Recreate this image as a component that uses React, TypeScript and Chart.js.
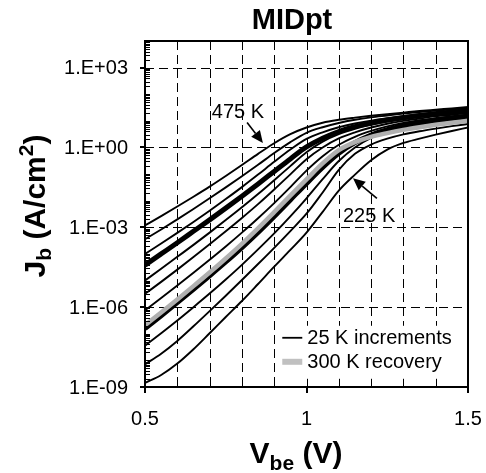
import React, { useEffect, useRef } from 'react';
import { Chart, registerables } from 'chart.js';

Chart.register(...registerables);

// Base-emitter voltage (V)
const vbe = [0.5, 0.55, 0.6, 0.65, 0.7, 0.75, 0.8, 0.85, 0.9, 0.95, 1.0, 1.05, 1.1, 1.15, 1.2, 1.25, 1.3, 1.35, 1.4, 1.45, 1.5];

const jb475 = [-2.93, -2.58, -2.22, -1.85, -1.47, -1.07, -0.66, -0.24, 0.16, 0.5, 0.75, 0.93, 1.04, 1.12, 1.19, 1.25, 1.31, 1.37, 1.42, 1.47, 1.52];
const jb450 = [-3.45, -3.08, -2.7, -2.31, -1.91, -1.5, -1.08, -0.65, -0.21, 0.2, 0.55, 0.76, 0.92, 1.04, 1.13, 1.2, 1.27, 1.33, 1.38, 1.43, 1.48];
const jb425 = [-4.0, -3.61, -3.21, -2.8, -2.38, -1.94, -1.49, -1.02, -0.54, -0.08, 0.32, 0.57, 0.76, 0.9, 1.01, 1.1, 1.18, 1.25, 1.31, 1.37, 1.42];
const jb400 = [-4.42, -4.0, -3.58, -3.15, -2.72, -2.28, -1.83, -1.37, -0.9, -0.43, 0.02, 0.35, 0.6, 0.78, 0.92, 1.03, 1.12, 1.2, 1.27, 1.33, 1.38];
const jb375 = [-5.0, -4.56, -4.11, -3.66, -3.2, -2.73, -2.25, -1.75, -1.23, -0.7, -0.18, 0.22, 0.5, 0.7, 0.85, 0.97, 1.07, 1.15, 1.22, 1.28, 1.33];
const jb350 = [-5.5, -5.05, -4.59, -4.12, -3.64, -3.15, -2.65, -2.13, -1.58, -1.01, -0.44, 0.0, 0.34, 0.57, 0.75, 0.89, 1.0, 1.09, 1.17, 1.23, 1.29];
const jb325 = [-6.12, -5.66, -5.19, -4.71, -4.22, -3.72, -3.2, -2.66, -2.09, -1.49, -0.87, -0.33, 0.1, 0.4, 0.62, 0.79, 0.92, 1.02, 1.1, 1.17, 1.23];
const jb300 = [-6.8, -6.32, -5.83, -5.33, -4.82, -4.3, -3.76, -3.19, -2.59, -1.97, -1.35, -0.75, -0.22, 0.18, 0.47, 0.67, 0.82, 0.94, 1.03, 1.11, 1.17];
const jb275 = [-7.45, -6.98, -6.5, -6.0, -5.49, -4.96, -4.41, -3.83, -3.23, -2.59, -1.91, -1.19, -0.51, 0.0, 0.36, 0.58, 0.73, 0.85, 0.95, 1.03, 1.1];
const jb250 = [-8.15, -7.75, -7.27, -6.72, -6.15, -5.57, -4.98, -4.38, -3.77, -3.14, -2.49, -1.69, -0.84, -0.24, 0.11, 0.33, 0.49, 0.61, 0.71, 0.8, 0.88];
const jb225 = [-8.85, -8.55, -8.12, -7.58, -6.98, -6.37, -5.77, -5.13, -4.48, -3.85, -3.2, -2.42, -1.62, -1.02, -0.48, -0.08, 0.17, 0.33, 0.48, 0.62, 0.75];
const jb300Recovery = [-6.68, -6.2, -5.71, -5.21, -4.7, -4.17, -3.62, -3.04, -2.43, -1.81, -1.2, -0.6, -0.1, 0.2, 0.4, 0.54, 0.66, 0.76, 0.85, 0.93, 1.0];

const thinSeries = [jb475, jb450, jb425, jb375, jb350, jb325, jb275, jb250, jb225];
const thickSeries = [jb400, jb300];

const yTickValues = [1e-9, 1e-6, 1e-3, 1, 1e3];
const yTickLabels = ['1.E-09', '1.E-06', '1.E-03', '1.E+00', '1.E+03'];
const yGridValues = [1e-6, 1e-3, 1, 1e3];
const xTickValues = [0.5, 1, 1.5];
const xTickLabels = ['0.5', '1', '1.5'];
const xGridValues = [0.6, 0.7, 0.8, 0.9, 1.0, 1.1, 1.2, 1.3, 1.4];
const legendLabels = ['25 K increments', '300 K recovery'];
const chartTitle = 'MIDpt';

const FONT = "'Liberation Sans', Arial, Helvetica, sans-serif";
const GRAY = '#b0b0b0';
const LEGEND_GRAY = '#c0c0c0';

const toPoints = (exps: number[]) => exps.map((e, i) => ({ x: vbe[i], y: Math.pow(10, e) }));

function drawArrow(ctx: CanvasRenderingContext2D, x0: number, y0: number, x1: number, y1: number) {
  const ang = Math.atan2(y1 - y0, x1 - x0);
  const head = 12;
  const hw = 5.5;
  const bx = x1 - head * Math.cos(ang);
  const by = y1 - head * Math.sin(ang);
  ctx.beginPath();
  ctx.moveTo(x0, y0);
  ctx.lineTo(bx, by);
  ctx.lineWidth = 1.6;
  ctx.strokeStyle = '#000';
  ctx.stroke();
  ctx.beginPath();
  ctx.moveTo(x1, y1);
  ctx.lineTo(bx + hw * Math.sin(ang), by - hw * Math.cos(ang));
  ctx.lineTo(bx - hw * Math.sin(ang), by + hw * Math.cos(ang));
  ctx.closePath();
  ctx.fillStyle = '#000';
  ctx.fill();
}

const decorPlugin = {
  id: 'midptDecor',
  beforeDatasetsDraw(chart: any) {
    const { ctx, chartArea: a, scales } = chart;
    const x = scales.x, y = scales.y;
    ctx.save();
    ctx.strokeStyle = '#000';
    ctx.lineWidth = 1;
    ctx.setLineDash([9, 5]);
    for (const v of xGridValues) {
      const px = Math.round(x.getPixelForValue(v)) + 0.5;
      ctx.beginPath();
      ctx.moveTo(px, a.top);
      ctx.lineTo(px, a.bottom);
      ctx.stroke();
    }
    for (const v of yGridValues) {
      const py = Math.round(y.getPixelForValue(v)) + 0.5;
      ctx.beginPath();
      ctx.moveTo(a.left, py);
      ctx.lineTo(a.right, py);
      ctx.stroke();
    }
    ctx.restore();
  },
  afterDatasetsDraw(chart: any) {
    const { ctx, chartArea: a, scales } = chart;
    const x = scales.x, y = scales.y;
    ctx.save();

    // legend (white box inside plot)
    const lx = x.getPixelForValue(0.925);
    const ly = y.getPixelForValue(Math.pow(10, -6.7));
    ctx.fillStyle = '#fff';
    ctx.fillRect(lx - 4, ly, a.right - lx + 2, 53);
    ctx.font = `20px ${FONT}`;
    ctx.textBaseline = 'middle';
    ctx.textAlign = 'left';
    const rows = [
      { color: '#000', width: 1.8 },
      { color: LEGEND_GRAY, width: 6 },
    ];
    rows.forEach((r, i) => {
      const cy = ly + 12 + i * 24;
      ctx.beginPath();
      ctx.moveTo(lx, cy);
      ctx.lineTo(lx + 20, cy);
      ctx.strokeStyle = r.color;
      ctx.lineWidth = r.width;
      ctx.stroke();
      ctx.fillStyle = '#000';
      ctx.fillText(legendLabels[i], lx + 25, cy + 1);
    });

    // frame
    ctx.strokeStyle = '#000';
    ctx.lineWidth = 2;
    ctx.strokeRect(a.left, a.top, a.right - a.left, a.bottom - a.top);

    // y ticks: minor inside, major outside
    ctx.lineWidth = 1;
    for (let k = -9; k < 4; k++) {
      for (let m = 1; m < 10; m++) {
        const v = m * Math.pow(10, k);
        const py = Math.round(y.getPixelForValue(v)) + 0.5;
        ctx.beginPath();
        ctx.moveTo(a.left, py);
        ctx.lineTo(a.left + 5, py);
        ctx.stroke();
      }
    }
    ctx.lineWidth = 2;
    for (const v of yTickValues) {
      const py = Math.round(y.getPixelForValue(v));
      ctx.beginPath();
      ctx.moveTo(a.left - 5, py);
      ctx.lineTo(a.left, py);
      ctx.stroke();
    }
    // x ticks
    ctx.lineWidth = 1;
    for (const v of xGridValues) {
      const px = Math.round(x.getPixelForValue(v)) + 0.5;
      ctx.beginPath();
      ctx.moveTo(px, a.bottom);
      ctx.lineTo(px, a.bottom - 6);
      ctx.stroke();
    }
    ctx.lineWidth = 2;
    for (const v of xTickValues) {
      const px = Math.round(x.getPixelForValue(v));
      ctx.beginPath();
      ctx.moveTo(px, a.bottom);
      ctx.lineTo(px, a.bottom + 6);
      ctx.stroke();
    }

    // tick labels
    ctx.fillStyle = '#000';
    ctx.font = `20px ${FONT}`;
    ctx.textAlign = 'right';
    ctx.textBaseline = 'middle';
    yTickValues.forEach((v, i) => {
      ctx.fillText(yTickLabels[i], a.left - 17, y.getPixelForValue(v) + 1);
    });
    ctx.textAlign = 'center';
    ctx.textBaseline = 'alphabetic';
    xTickValues.forEach((v, i) => {
      ctx.fillText(xTickLabels[i], x.getPixelForValue(v), a.bottom + 38);
    });

    // annotations
    ctx.textAlign = 'left';
    ctx.fillText('475 K', x.getPixelForValue(0.707), y.getPixelForValue(Math.pow(10, 1.12)));
    drawArrow(ctx, x.getPixelForValue(0.816), y.getPixelForValue(Math.pow(10, 0.94)), x.getPixelForValue(0.865), y.getPixelForValue(Math.pow(10, 0.17)));
    ctx.fillText('225 K', x.getPixelForValue(1.113), y.getPixelForValue(Math.pow(10, -2.81)));
    drawArrow(ctx, x.getPixelForValue(1.218), y.getPixelForValue(Math.pow(10, -1.91)), x.getPixelForValue(1.144), y.getPixelForValue(Math.pow(10, -1.16)));

    // chart title
    ctx.font = `bold 29px ${FONT}`;
    ctx.textAlign = 'center';
    ctx.fillText(chartTitle, 292, 29);

    // x axis title: V_be (V)
    const xParts = [
      { t: 'V', size: 30, dy: 0 },
      { t: 'be', size: 21, dy: 7 },
      { t: ' (V)', size: 30, dy: 0 },
    ];
    let total = 0;
    xParts.forEach(p => { ctx.font = `bold ${p.size}px ${FONT}`; total += ctx.measureText(p.t).width; });
    let cx = 296 - total / 2;
    ctx.textAlign = 'left';
    xParts.forEach(p => {
      ctx.font = `bold ${p.size}px ${FONT}`;
      ctx.fillText(p.t, cx, 463 + p.dy);
      cx += ctx.measureText(p.t).width;
    });

    // y axis title: J_b (A/cm^2)
    const yParts = [
      { t: 'J', size: 30, dy: 0 },
      { t: 'b', size: 21, dy: 6 },
      { t: ' (A/cm', size: 30, dy: 0 },
      { t: '2', size: 21, dy: -12 },
      { t: ')', size: 30, dy: 0 },
    ];
    total = 0;
    yParts.forEach(p => { ctx.font = `bold ${p.size}px ${FONT}`; total += ctx.measureText(p.t).width; });
    ctx.translate(0, 206);
    ctx.rotate(-Math.PI / 2);
    let cy2 = -total / 2;
    yParts.forEach(p => {
      ctx.font = `bold ${p.size}px ${FONT}`;
      ctx.fillText(p.t, cy2, 45 + p.dy);
      cy2 += ctx.measureText(p.t).width;
    });

    ctx.restore();
  },
};

export default function App() {
  const canvasRef = useRef<HTMLCanvasElement | null>(null);

  useEffect(() => {
    const canvas = canvasRef.current;
    if (!canvas) return;
    const datasets: any[] = [];
    thinSeries.forEach((s) => {
      datasets.push({
        data: toPoints(s),
        borderColor: '#000',
        borderWidth: 1.9,
        pointRadius: 0,
        fill: false,
        cubicInterpolationMode: 'monotone',
        order: 3,
      });
    });
    thickSeries.forEach((s) => {
      datasets.push({
        data: toPoints(s),
        borderColor: '#000',
        borderWidth: 5,
        pointRadius: 0,
        fill: false,
        cubicInterpolationMode: 'monotone',
        order: 2,
      });
    });
    datasets.push({
      data: toPoints(jb300Recovery),
      borderColor: GRAY,
      borderWidth: 4.5,
      pointRadius: 0,
      fill: false,
      cubicInterpolationMode: 'monotone',
      order: 1,
    });

    const chart = new Chart(canvas, {
      type: 'line',
      data: { datasets },
      options: {
        responsive: false,
        animation: false,
        events: [],
        layout: { padding: { left: 145, right: 18, top: 41, bottom: 86 } },
        scales: {
          x: { type: 'linear', min: 0.5, max: 1.5, display: false },
          y: { type: 'logarithmic', min: 1e-9, max: 1e4, display: false },
        },
        plugins: { legend: { display: false }, tooltip: { enabled: false }, title: { display: false } },
      },
      plugins: [decorPlugin],
    } as any);
    return () => chart.destroy();
  }, []);

  return (
    <div style={{ position: 'absolute', left: 0, top: 0, width: 486, height: 473, background: '#fff' }}>
      <canvas ref={canvasRef} width={486} height={473} style={{ width: 486, height: 473, display: 'block' }} />
    </div>
  );
}
